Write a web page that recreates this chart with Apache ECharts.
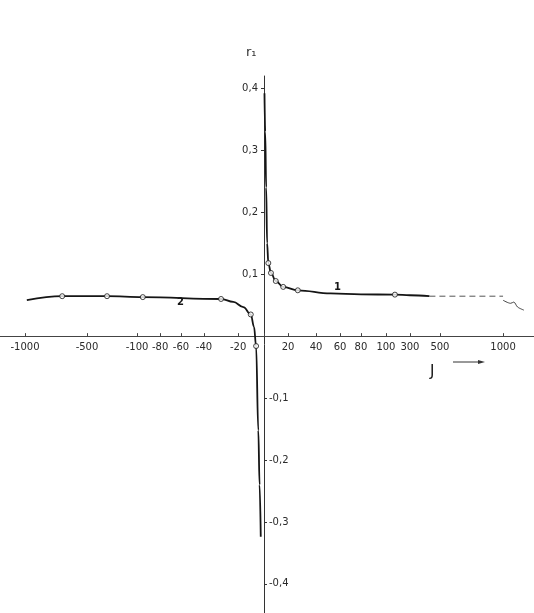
<!DOCTYPE html>
<html>
<head>
<meta charset="utf-8">
<title>r1 (J)</title>
<script src="https://cdn.jsdelivr.net/npm/echarts@6/dist/echarts.min.js"></script>
<style>
html, body { margin: 0; padding: 0; background: #fff; }
#main { width: 534px; height: 613px; }
</style>
</head>
<body>
<div id="main"></div>
<script>
// J axis is stretched by hand in the original: tick labels and their place on the axis
var jTicks  = [-1000, -500, -100, -80, -60, -40, -20, 0, 20, 40, 60, 80, 100, 300, 500, 1000];
var jTickAt = [-9.96, -7.375, -5.29, -4.33, -3.46, -2.5, -1.08, 0, 1, 2.17, 3.17, 4.04, 5.08, 6.08, 7.33, 9.96];
var rPos = [0.1, 0.2, 0.3, 0.4];
var rNeg = [-0.1, -0.2, -0.3, -0.4];

// curve 1 (J > 0)
var curve1J = [0.4, 1, 1.8, 2.6, 3.6, 5.8, 9.8, 16, 27, 52, 80, 175, 300, 430];
var curve1R = [0.392, 0.33, 0.24, 0.15, 0.118, 0.102, 0.089, 0.0795, 0.074, 0.069, 0.0675, 0.067, 0.066, 0.0645];
var pts1J = [3.6, 5.8, 9.8, 16, 27, 175];
var pts1R = [0.118, 0.102, 0.089, 0.0795, 0.074, 0.067];
var tail1J = [430, 1000];
var tail1R = [0.0645, 0.0645];
var wiggleJ = [1000, 1060, 1085, 1115, 1165];
var wiggleR = [0.058, 0.053, 0.055, 0.047, 0.042];

// curve 2 (J < 0)
var curve2J = [-985, -700, -340, -95, -30, -22.8, -15.9, -10.2, -7.7, -6.1, -4.4, -3.4, -2.5];
var curve2R = [0.058, 0.0645, 0.0645, 0.063, 0.060, 0.0553, 0.047, 0.035, 0.015, -0.016, -0.152, -0.24, -0.324];
var pts2J = [-700, -340, -95, -30, -10.2, -6.1];
var pts2R = [0.0645, 0.0645, 0.063, 0.060, 0.035, -0.016];

// piecewise linear J -> axis position
function toU(j) {
    var n = jTicks.length, i = 1;
    while (i < n - 1 && j > jTicks[i]) i++;
    var a = jTicks[i - 1], b = jTicks[i];
    return jTickAt[i - 1] + (j - a) / (b - a) * (jTickAt[i] - jTickAt[i - 1]);
}
function pairs(js, rs) {
    return js.map(function (j, k) { return [toU(j), rs[k]]; });
}
function rLabel(v) {
    var s = Math.abs(v).toFixed(1).replace('.', ',');
    return v < 0 ? '-' + s : s;
}

var W = 534, H = 613;
var gridTop = 76;
var xMin = -11, xMax = 11.25, yMin = -0.447, yMax = 0.42;
// axes cross at the origin
var zeroX = (0 - xMin) / (xMax - xMin) * W;
var zeroY = gridTop + (yMax - 0) / (yMax - yMin) * (H - gridTop);

var ink = '#151515';
var labelFont = { fontFamily: 'DejaVu Sans', fontSize: 10, color: '#2a2a2a' };

var myChart = echarts.init(document.getElementById('main'));
myChart.setOption({
    animation: false,
    backgroundColor: '#fff',
    grid: { left: 0, right: 0, top: gridTop, bottom: 0, outerBoundsMode: 'none', containLabel: false },
    xAxis: {
        type: 'value',
        min: xMin,
        max: xMax,
        position: 'bottom',
        offset: -(H - zeroY),
        axisLine: { onZero: false, lineStyle: { color: '#444', width: 1 } },
        axisTick: { show: true, inside: true, length: 3, customValues: jTickAt, lineStyle: { color: '#444' } },
        axisLabel: Object.assign({
            margin: 6,
            customValues: jTickAt.filter(function (u) { return u !== 0; }),
            formatter: function (v) {
                for (var k = 0; k < jTickAt.length; k++) {
                    if (Math.abs(jTickAt[k] - v) < 1e-6) return String(jTicks[k]);
                }
                return '';
            }
        }, labelFont),
        splitLine: { show: false }
    },
    yAxis: [{
        type: 'value',
        position: 'left',
        offset: -zeroX,
        min: yMin,
        max: yMax,
        axisLine: { show: true, onZero: false, lineStyle: { color: '#333', width: 1 } },
        axisTick: { show: true, length: 3, customValues: rPos, lineStyle: { color: '#333' } },
        axisLabel: Object.assign({ margin: 6, customValues: rPos, formatter: rLabel }, labelFont),
        splitLine: { show: false }
    }, {
        type: 'value',
        position: 'right',
        offset: -(W - zeroX),
        min: yMin,
        max: yMax,
        axisLine: { show: false, onZero: false },
        axisTick: { show: true, length: 3, customValues: rNeg, lineStyle: { color: '#333' } },
        axisLabel: Object.assign({ margin: 5, customValues: rNeg, formatter: rLabel }, labelFont),
        splitLine: { show: false }
    }],
    series: [
        {
            name: '1', type: 'line', data: pairs(curve1J, curve1R),
            smooth: 0.4, smoothMonotone: 'x', showSymbol: false,
            lineStyle: { color: ink, width: 1.8 }
        },
        {
            name: '1 tail', type: 'line', data: pairs(tail1J, tail1R),
            showSymbol: false, lineStyle: { color: '#555', width: 1, type: [6, 4] }
        },
        {
            name: '1 wiggle', type: 'line', data: pairs(wiggleJ, wiggleR),
            smooth: 0.3, showSymbol: false, lineStyle: { color: '#444', width: 1 }
        },
        {
            name: '2', type: 'line', data: pairs(curve2J, curve2R),
            smooth: 0.4, smoothMonotone: 'x', showSymbol: false,
            lineStyle: { color: ink, width: 1.8 }
        },
        {
            name: 'pts1', type: 'scatter', data: pairs(pts1J, pts1R), z: 5,
            symbol: 'circle', symbolSize: 5,
            itemStyle: { color: '#fff', borderColor: ink, borderWidth: 1 }
        },
        {
            name: 'pts2', type: 'scatter', data: pairs(pts2J, pts2R), z: 5,
            symbol: 'circle', symbolSize: 5,
            itemStyle: { color: '#fff', borderColor: ink, borderWidth: 1 }
        }
    ],
    graphic: [
        { type: 'text', left: 246, top: 46, style: { text: 'r₁', font: '13px DejaVu Sans', fill: '#333' } },
        { type: 'text', left: 334, top: 282, style: { text: '1', font: 'bold 10px DejaVu Sans', fill: ink } },
        { type: 'text', left: 177, top: 297, style: { text: '2', font: 'bold 10px DejaVu Sans', fill: ink } },
        { type: 'text', left: 430, top: 365, style: { text: 'J', font: '15px DejaVu Sans', fill: ink } },
        { type: 'line', shape: { x1: 453, y1: 362, x2: 479, y2: 362 }, style: { stroke: '#333', lineWidth: 1 } },
        { type: 'polygon', shape: { points: [[478, 360], [485, 362], [478, 364]] }, style: { fill: '#333' } }
    ]
});
</script>
</body>
</html>
